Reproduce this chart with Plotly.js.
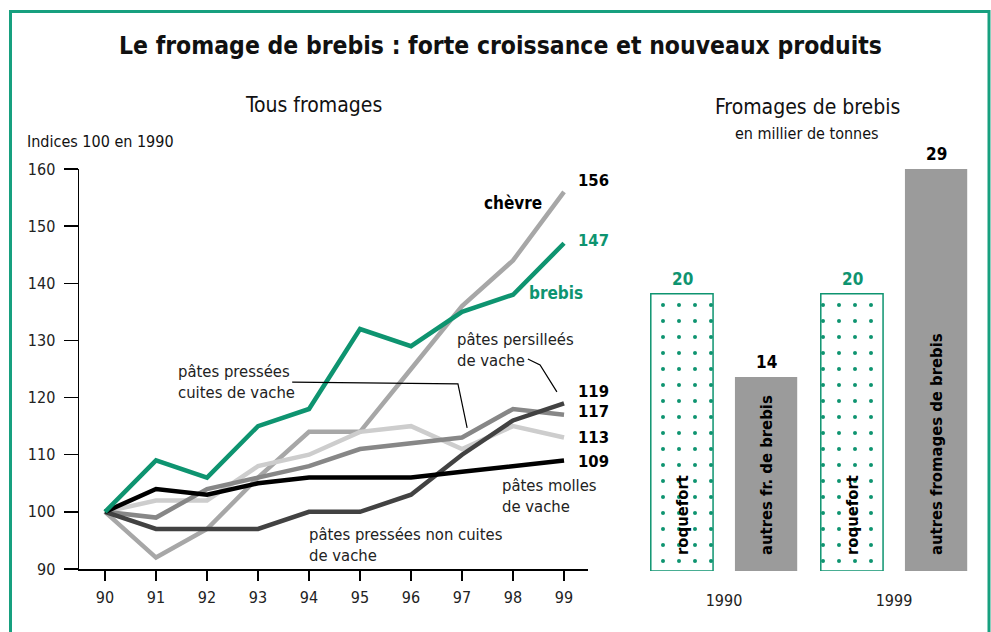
<!DOCTYPE html>
<html>
<head>
<meta charset="utf-8">
<script src="https://cdn.plot.ly/plotly-3.0.1.min.js"></script>
<style>html,body{margin:0;padding:0;background:#fff;}#chart{width:991px;height:632px;}</style>
</head>
<body>
<div id="chart"></div>
<script>
// ---- Data: line chart (indices 100 en 1990)
const years = [90, 91, 92, 93, 94, 95, 96, 97, 98, 99];
const chevre = [100, 92, 97, 106, 114, 114, 125, 136, 144, 156];
const pressCuites = [100, 102, 102, 108, 110, 114, 115, 111, 115, 113];
const persillees = [100, 99, 104, 106, 108, 111, 112, 113, 118, 117];
const pressNonCuites = [100, 97, 97, 97, 100, 100, 103, 110, 116, 119];
const molles = [100, 104, 103, 105, 106, 106, 106, 107, 108, 109];
const brebis = [100, 109, 106, 115, 118, 132, 129, 135, 138, 147];

// ---- Data: bar chart (milliers de tonnes)
const barYears = ['1990', '1999'];
const roquefort = [20, 20];
const autres = [14, 29];
const autresLabels = ['autres fr. de brebis', 'autres fromages de brebis'];
const roquefortLabels = ['roquefort', 'roquefort'];

const GREEN = '#0e9470';
const FRAME = '#17a07f';
const NARROW = '"Liberation Sans Narrow", "DejaVu Sans Condensed", "Arial Narrow", sans-serif';

function line(y, color, name) {
  return {x: years, y: y, type: 'scatter', mode: 'lines', name: name,
    line: {color: color, width: 4.5}, xaxis: 'x', yaxis: 'y', hoverinfo: 'skip'};
}

const traces = [
  line(chevre, '#a7a7a7', 'chèvre'),
  line(pressCuites, '#cdcdcd', 'pâtes pressées cuites de vache'),
  line(persillees, '#878787', 'pâtes persillées de vache'),
  line(pressNonCuites, '#424242', 'pâtes pressées non cuites de vache'),
  line(molles, '#000000', 'pâtes molles de vache'),
  line(brebis, GREEN, 'brebis'),
  {x: [0, 1], y: roquefort, type: 'bar', name: 'roquefort', xaxis: 'x2', yaxis: 'y2',
    offsetgroup: 'a',
    marker: {color: '#ffffff', line: {color: GREEN, width: 1.5},
      pattern: {shape: '.', fgcolor: GREEN, bgcolor: '#ffffff', size: 16, solidity: 0.05}},
    hoverinfo: 'skip'},
  {x: [0, 1], y: autres, type: 'bar', name: 'autres', xaxis: 'x2', yaxis: 'y2',
    offsetgroup: 'b', marker: {color: '#9b9b9b', line: {width: 0}}, hoverinfo: 'skip'}
];

const annotations = [];
function paperAnn(text, xpx, ypx, size, opts) {
  annotations.push(Object.assign({text: text, xref: 'paper', yref: 'paper',
    x: xpx / 991, y: 1 - ypx / 632, showarrow: false, yanchor: 'middle', xanchor: 'center',
    font: {family: NARROW, size: size, color: '#111'}}, opts || {}));
}
paperAnn('<b>Le fromage de brebis : forte croissance et nouveaux produits</b>', 500, 45, 24.5);
paperAnn('Tous fromages', 313, 105, 21);
paperAnn('Fromages de brebis', 807, 107, 21);
paperAnn('en millier de tonnes', 807, 133, 16);
paperAnn('Indices 100 en 1990', 25, 142, 16, {xanchor: 'left'});

// end-of-line value labels
const endSeries = [[chevre, '#000', 11], [brebis, GREEN, 3], [pressNonCuites, '#000', 12],
  [persillees, '#000', 3], [pressCuites, '#000', 0], [molles, '#000', -1]];
endSeries.forEach(function (s) {
  const v = s[0][s[0].length - 1];
  annotations.push({text: '<b>' + v + '</b>', x: years[years.length - 1], y: v, xref: 'x', yref: 'y',
    xanchor: 'left', yanchor: 'middle', xshift: 12, yshift: s[2], showarrow: false,
    font: {family: NARROW, size: 16.5, color: s[1]}});
});

function dataAnn(text, x, y, opts) {
  annotations.push(Object.assign({text: text, x: x, y: y, xref: 'x', yref: 'y', showarrow: false,
    align: 'left', yanchor: 'middle', font: {family: NARROW, size: 16.5, color: '#222'}}, opts || {}));
}
dataAnn('<b>chèvre</b>', 98.0, 154.1, {font: {family: NARROW, size: 17, color: '#000'}});
dataAnn('<b>brebis</b>', 98.84, 138.3, {font: {family: NARROW, size: 17, color: GREEN}});
dataAnn('pâtes persilleés<br>de vache', 96.86, 128.3, {xanchor: 'left'});
dataAnn('pâtes pressées<br>cuites de vache', 91.39, 122.7, {xanchor: 'left'});
dataAnn('pâtes molles<br>de vache', 97.75, 102.8, {xanchor: 'left'});
dataAnn('pâtes pressées non cuites<br>de vache', 93.96, 94.2, {xanchor: 'left'});

// bar value labels and inside labels
barYears.forEach(function (yr, i) {
  annotations.push({text: '<b>' + roquefort[i] + '</b>', x: i, y: roquefort[i], xref: 'x2', yref: 'y2',
    xshift: -42, yanchor: 'bottom', yshift: 3, showarrow: false,
    font: {family: NARROW, size: 17, color: GREEN}});
  annotations.push({text: '<b>' + autres[i] + '</b>', x: i, y: autres[i], xref: 'x2', yref: 'y2',
    xshift: 42, yanchor: 'bottom', yshift: 3, showarrow: false,
    font: {family: NARROW, size: 17, color: '#000'}});
  annotations.push({text: '<b>' + roquefortLabels[i] + '</b>', x: i, y: 0, xref: 'x2', yref: 'y2',
    xshift: -42, yanchor: 'bottom', yshift: 14, textangle: -90, showarrow: false,
    font: {family: NARROW, size: 16.5, color: '#000'}});
  annotations.push({text: '<b>' + autresLabels[i] + '</b>', x: i, y: 0, xref: 'x2', yref: 'y2',
    xshift: 42, yanchor: 'bottom', yshift: 14, textangle: -90, showarrow: false,
    font: {family: NARROW, size: 16.5, color: '#000'}});
});

const shapes = [
  {type: 'rect', xref: 'paper', yref: 'paper', x0: 10.5 / 991, x1: 989 / 991, y0: -0.2, y1: 1 - 11.5 / 632,
    line: {color: FRAME, width: 3}, fillcolor: 'rgba(0,0,0,0)', layer: 'below'},
  {type: 'path', xref: 'x', yref: 'y', path: 'M93.67,122.7 L96.92,122.4 L97.10,114.7',
    line: {color: '#000', width: 1.2}},
  {type: 'path', xref: 'x', yref: 'y', path: 'M98.29,126.75 L98.53,125.7 L98.86,121.0',
    line: {color: '#000', width: 1.2}}
];

const tickFont = {family: NARROW, size: 16, color: '#222'};
const layout = {
  width: 991, height: 632, margin: {l: 0, r: 0, t: 0, b: 0},
  paper_bgcolor: '#fff', plot_bgcolor: 'rgba(0,0,0,0)', showlegend: false,
  font: {family: NARROW},
  xaxis: {domain: [79 / 991, 588 / 991], range: [89.49, 99.47], showgrid: false, zeroline: false,
    showline: true, linecolor: '#000', linewidth: 1.5, ticks: 'outside', ticklen: 10, tickwidth: 1.5,
    tickcolor: '#000', tickvals: years, ticktext: years.map(String), tickfont: tickFont,
    ticklabelstandoff: 3},
  yaxis: {domain: [1 - 569 / 632, 1 - 169 / 632], range: [90, 160], showgrid: false, zeroline: false,
    showline: true, linecolor: '#000', linewidth: 1.5, ticks: 'outside', ticklen: 14, tickwidth: 1.5,
    tickcolor: '#000', dtick: 10, tickfont: tickFont, ticklabelstandoff: 5},
  xaxis2: {domain: [639 / 991, 979 / 991], range: [-0.5, 1.5], anchor: 'y2', showgrid: false,
    zeroline: false, showline: false, ticks: '', tickvals: [0, 1], ticktext: barYears,
    tickfont: tickFont, ticklabelstandoff: 18},
  yaxis2: {domain: [1 - 571 / 632, 1 - 169 / 632], range: [0, 29], anchor: 'x2', showgrid: false,
    zeroline: false, showline: false, showticklabels: false, ticks: ''},
  barmode: 'group', bargap: 0.01, bargroupgap: 0.26,
  annotations: annotations, shapes: shapes
};

Plotly.newPlot('chart', traces, layout, {staticPlot: true, displayModeBar: false});
</script>
</body>
</html>
